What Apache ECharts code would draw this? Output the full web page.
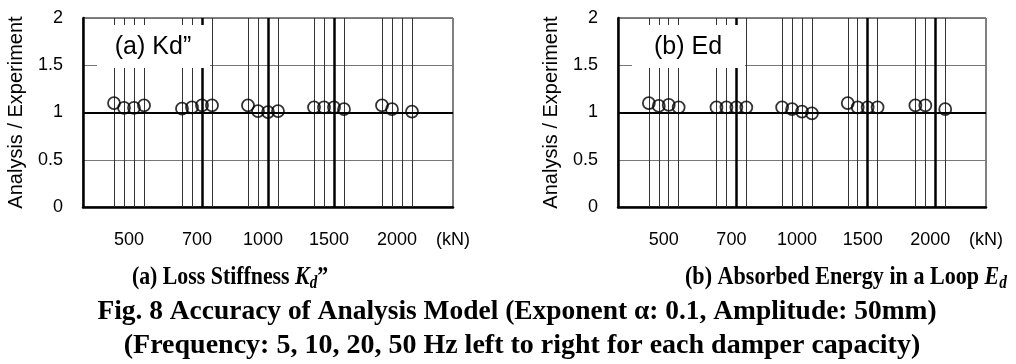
<!DOCTYPE html>
<html>
<head>
<meta charset="utf-8">
<script src="https://cdn.jsdelivr.net/npm/echarts@6/dist/echarts.min.js"></script>
<style>
html, body { margin: 0; padding: 0; background: #fff; }
#chart { width: 1016px; height: 364px; }
</style>
</head>
<body>
<div id="chart"></div>
<script>
// damper capacities (kN) and the test frequencies (Hz) inside each group
const capacities = ['500', '700', '1000', '1500', '2000'];
const frequencies = [5, 10, 20, 50];
// where each capacity group sits on the x axis
const groupPos = [4.6, 11.4, 18.0, 24.6, 31.4];

// Analysis / Experiment ratio, one row per capacity, one column per frequency
const kdRatio = [
  [1.10, 1.05, 1.05, 1.075],
  [1.04, 1.055, 1.075, 1.075],
  [1.075, 1.015, 1.005, 1.015],
  [1.055, 1.055, 1.055, 1.035],
  [1.075, 1.035, null, 1.01]
];
const edRatio = [
  [1.10, 1.07, 1.08, 1.055],
  [1.055, 1.055, 1.055, 1.055],
  [1.055, 1.035, 1.01, 0.99],
  [1.10, 1.055, 1.055, 1.055],
  [1.075, 1.075, null, 1.035]
];
// groups whose 20 Hz guide line is drawn heavy
const heavyA = [1, 2, 3];
const heavyB = [1, 3, 4];

const xOf = (g, f) => groupPos[g] + (f - 1.5);

function points(ratio) {
  const out = [];
  ratio.forEach((row, g) => row.forEach((v, f) => {
    if (v != null) out.push([xOf(g, f), v]);
  }));
  return out;
}

function guideLines(heavy) {
  const out = [];
  capacities.forEach((c, g) => frequencies.forEach((fr, f) => {
    const thick = f === 2 && heavy.includes(g);
    out.push({ xAxis: xOf(g, f), lineStyle: { color: thick ? '#000' : '#333', width: thick ? 2.5 : 1, type: 'solid' } });
  }));
  out.push({ yAxis: 1, lineStyle: { color: '#000', width: 2, type: 'solid' } });
  return out;
}

const labelFont = 'Liberation Sans, Arial, sans-serif';
const labelValues = groupPos.concat([37]);
const labelTexts = capacities.concat(['(kN)']);

function xAxis(idx) {
  return {
    type: 'value', gridIndex: idx, min: 0, max: 37,
    axisLine: { show: true, onZero: false, lineStyle: { color: '#000', width: 2.5 } },
    axisTick: { show: false },
    splitLine: { show: false },
    axisLabel: {
      customValues: labelValues,
      formatter: v => labelTexts[labelValues.indexOf(v)] || '',
      color: '#000', fontSize: 18, fontFamily: labelFont, margin: 24
    }
  };
}

function yAxis(idx) {
  return {
    type: 'value', gridIndex: idx, min: 0, max: 2, interval: 0.5,
    name: 'Analysis / Experiment', nameLocation: 'middle', nameGap: 57,
    nameTextStyle: { color: '#000', fontSize: 20, fontFamily: labelFont },
    axisLine: { show: true, lineStyle: { color: '#000', width: 2.5 } },
    axisTick: { show: false },
    splitLine: { show: true, lineStyle: { color: '#777', width: 1 } },
    axisLabel: { color: '#000', fontSize: 18, fontFamily: labelFont, margin: 20 }
  };
}

function panelSeries(idx, ratio, heavy) {
  return [
    {
      type: 'scatter', xAxisIndex: idx, yAxisIndex: idx, data: [], z: 1,
      silent: true,
      markLine: { silent: true, symbol: ['none', 'none'], label: { show: false }, animation: false, data: guideLines(heavy) }
    },
    {
      type: 'scatter', xAxisIndex: idx, yAxisIndex: idx, z: 5,
      symbol: 'circle', symbolSize: 12,
      itemStyle: { color: 'rgba(0,0,0,0)', borderColor: '#000', borderWidth: 1.8 },
      data: points(ratio)
    }
  ];
}

function tagBox(x, label) {
  return [
    { type: 'rect', z: 100, silent: true, shape: { x: x, y: 25, width: 113, height: 43 }, style: { fill: '#fff' } },
    { type: 'text', z: 101, silent: true, style: { text: label, x: x + 56, y: 47, align: 'center', verticalAlign: 'middle', font: '25px ' + labelFont, fill: '#000' } }
  ];
}

function capRich(size) {
  return {
    i: { fontStyle: 'italic', fontWeight: 'bold', fontSize: size, fontFamily: 'Liberation Serif', lineHeight: size + 5, verticalAlign: 'middle' },
    s: { fontStyle: 'italic', fontWeight: 'bold', fontSize: Math.round(size * 0.68), fontFamily: 'Liberation Serif', lineHeight: size + 5, verticalAlign: 'bottom' }
  };
}

function caption(text, x, y, size, sx) {
  return {
    type: 'text', z: 100, silent: true, x: x, y: y, scaleX: sx,
    style: {
      text: text, x: 0, y: 0, align: 'center', verticalAlign: 'middle',
      font: 'bold ' + size + 'px "Liberation Serif", "Times New Roman", serif',
      fill: '#000', rich: capRich(size), lineHeight: size + 5
    }
  };
}

const chart = echarts.init(document.getElementById('chart'));
const option = {
  animation: false,
  grid: [
    { left: 83, top: 18, width: 370, height: 189, show: true, borderColor: '#000', borderWidth: 1 },
    { left: 618, top: 18, width: 368, height: 189, show: true, borderColor: '#000', borderWidth: 1 }
  ],
  xAxis: [xAxis(0), xAxis(1)],
  yAxis: [yAxis(0), yAxis(1)],
  series: panelSeries(0, kdRatio, heavyA).concat(panelSeries(1, edRatio, heavyB)),
  graphic: tagBox(97, '(a) Kd\u201D').concat(tagBox(632, '(b) Ed'), [
    caption('(a) Loss Stiffness {i|K}{s|d}\u201D', 230, 277, 26, 0.84),
    caption('(b) Absorbed Energy in a Loop {i|E}{s|d}', 846, 277, 26, 0.85),
    caption('Fig. 8 Accuracy of Analysis Model (Exponent \u03B1: 0.1, Amplitude: 50mm)', 517, 312, 28, 0.98),
    caption('(Frequency: 5, 10, 20, 50 Hz left to right for each damper capacity)', 522, 346, 28, 1.0)
  ])
};
chart.setOption(option);
</script>
</body>
</html>
